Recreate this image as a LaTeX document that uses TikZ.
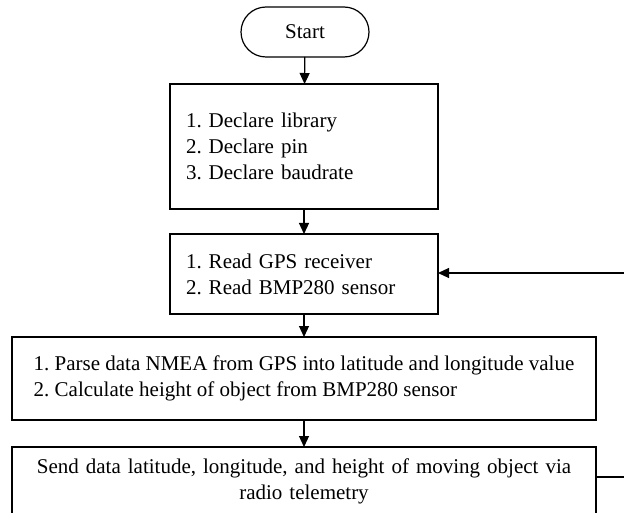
\documentclass[tikz,border=0pt]{standalone}
\usepackage{fontspec}
\setmainfont{Liberation Serif}
\usetikzlibrary{arrows.meta}
\frenchspacing
\begin{document}
\begin{tikzpicture}[x=1pt, y=-1pt,
  every node/.style={font=\fontsize{21}{26}\selectfont, line width=1.2pt, outer sep=0pt},
  terminal/.style={draw, rectangle, rounded corners=25pt, minimum width=128pt, minimum height=50pt},
  stepbox/.style={draw, rectangle, align=left, inner xsep=16pt, inner ysep=0pt},
  flow/.style={line width=1.2pt, -{Triangle[length=11pt, width=10pt]}},
  plain/.style={line width=1.2pt}]
  \useasboundingbox[fill=white] (0,0) rectangle (624,513);

  % process nodes
  \node[terminal] (start) at (305,32) {Start};
  \node[stepbox, text width=236pt, minimum height=125pt] (init) at (304,146.5)
    {1. Declare library\\2. Declare pin\\3. Declare baudrate};
  \node[stepbox, text width=236pt, minimum height=80pt] (read) at (304,274)
    {1. Read GPS receiver\\2. Read BMP280 sensor};
  \node[stepbox, inner xsep=0pt, minimum width=584pt, minimum height=83pt] (calc) at (304,378.5)
    {1. Parse data NMEA from GPS into latitude and longitude value\\2. Calculate height of object from BMP280 sensor};
  \node[stepbox, align=center, text width=552pt, minimum height=69pt] (send) at (304,481.5)
    {Send data latitude, longitude, and height of moving object via\\radio telemetry};

  % loop ends at the right margin
  \coordinate (loopin) at (624,273);
  \coordinate (loopout) at (624,477);

  % connectors
  \draw[flow] (start) -- (init);
  \draw[flow] (init) -- (read);
  \draw[flow] (read) -- (calc);
  \draw[flow] (calc) -- (send);
  \draw[flow] (loopin) -- (loopin -| read.east);
  \draw[plain] (loopout -| send.east) -- (loopout);
\end{tikzpicture}
\end{document}
